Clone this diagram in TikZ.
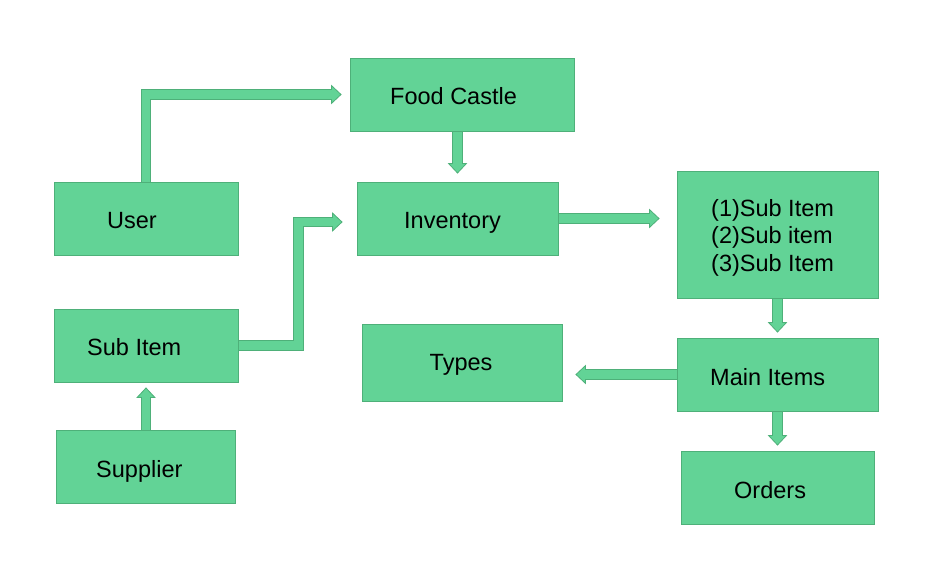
\documentclass[tikz,border=0pt]{standalone}
\usepackage{fontspec}
\setmainfont{Liberation Sans}
\usetikzlibrary{arrows.meta,backgrounds,calc}
\definecolor{fillc}{RGB}{98,211,150}
\definecolor{edgec}{RGB}{78,176,121}
\newcommand\blk[3]{%
  \draw[edgec, line width=10.5pt, line join=miter, shorten >=#1,
    -{Triangle[width=19.5pt,length=10.5pt,fill=fillc,line width=0.8pt]}] #3;
  \draw[fillc, line width=8.8pt, line join=miter, shorten >=#2] #3;
}
\begin{document}
\begin{tikzpicture}[x=1pt,y=-1pt,
  box/.style={draw=edgec, line width=0.8pt, fill=fillc, inner sep=0pt},
  txt/.style={anchor=base west, inner sep=0pt, text=black,
    font=\fontsize{23.5}{28}\selectfont}]
\useasboundingbox (0,0) rectangle (942,560);
% boxes
\node[box, minimum width=224pt, minimum height=73pt] (fc) at (462,94.5) {};
\node[box, minimum width=184pt, minimum height=73pt] (user) at (146,218.5) {};
\node[box, minimum width=201pt, minimum height=73pt] (inv) at (457.5,218.5) {};
\node[box, minimum width=201pt, minimum height=127pt] (subR) at (777.5,234.5) {};
\node[box, minimum width=184pt, minimum height=73pt] (subL) at (146,345.5) {};
\node[box, minimum width=179pt, minimum height=73pt] (sup) at (145.5,466.5) {};
\node[box, minimum width=200pt, minimum height=77pt] (types) at (462,362.5) {};
\node[box, minimum width=201pt, minimum height=73pt] (main) at (777.5,374.5) {};
\node[box, minimum width=193pt, minimum height=73pt] (orders) at (777.5,487.5) {};
% texts
\node[txt] (fcT) at (390,104) {Food Castle};
\node[txt] (userT) at (107,228) {User};
\node[txt] (invT) at (404,228) {Inventory};
\node[txt] (s1T) at (711,216) {(1)Sub Item};
\node[txt] (s2T) at (711,243.5) {(2)Sub item};
\node[txt] (s3T) at (711,271) {(3)Sub Item};
\node[txt] (subLT) at (87,355) {Sub Item};
\node[txt] (supT) at (96,477) {Supplier};
\node[txt] (typesT) at (429.5,370) {Types};
\node[txt] (mainT) at (710,385) {Main Items};
\node[txt] (ordersT) at (734,498) {Orders};
% arrows
\begin{scope}[on background layer]
\fill[white] (0,0) rectangle (942,560);
\blk{8pt}{18pt}{(user.north) |- (fc.west)}
\blk{8pt}{18pt}{(fc.south -| inv.north) -- (inv.north)}
\blk{14pt}{24pt}{(subL.east) -- ++(60,0) |- ([yshift=-3.5pt]inv.west)}
\blk{17pt}{27pt}{(inv.east) -- (subR.west |- inv.east)}
\blk{5pt}{15pt}{(subR.south) -- (main.north)}
\blk{13pt}{23pt}{(main.west) -- (main.west -| types.east)}
\blk{5pt}{15pt}{(main.south) -- (orders.north)}
\blk{5pt}{15pt}{(sup.north -| subL.south) -- (subL.south)}
\end{scope}
\end{tikzpicture}
\end{document}
